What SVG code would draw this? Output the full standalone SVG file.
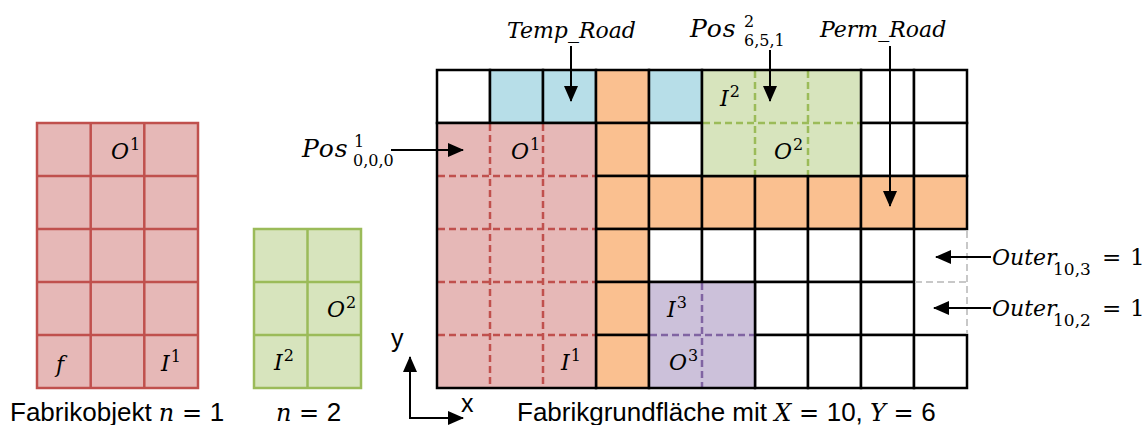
<svg xmlns="http://www.w3.org/2000/svg" width="1145" height="425" viewBox="0 0 1145 425">
<defs>
<marker id="ah" markerUnits="userSpaceOnUse" markerWidth="16" markerHeight="16" viewBox="0 0 16 16" refX="15" refY="8" orient="auto">
<path d="M0,1 L16,8 L0,15 Z" fill="#000"/>
</marker>
</defs>
<style>
.sans{font-family:"Liberation Sans",Arial,sans-serif;font-size:26px;fill:#000}
.ax{font-family:"Liberation Sans",Arial,sans-serif;font-size:25px;fill:#000}
.m{font-family:"DejaVu Serif","Liberation Serif",serif;font-style:italic;font-size:22px;fill:#000}
.mn{font-family:"DejaVu Serif","Liberation Serif",serif;font-style:normal;font-size:22px;fill:#000}
.m24{font-size:24px}
.s{font-size:16px;font-style:normal}
.s2{font-size:17px;font-style:normal;letter-spacing:0}
.c{stroke:#000;stroke-width:2.5}
.w{fill:#fff}
.b{fill:#B7DEE8}
.o{fill:#FAC090}
.red{fill:#E6B8B7}
.grn{fill:#D7E4BD}
.pur{fill:#CCC1DA}
.rl{stroke:#C0504D;stroke-width:2.5;fill:none}
.gl{stroke:#9BBB59;stroke-width:2.5;fill:none}
.rd{stroke:#C0504D;stroke-width:2.5;stroke-dasharray:7 4;fill:none}
.gd{stroke:#9BBB59;stroke-width:2.5;stroke-dasharray:7 4;fill:none}
.pd{stroke:#8064A2;stroke-width:2.5;stroke-dasharray:7 4;fill:none}
.od{stroke:#C8C8C8;stroke-width:2;stroke-dasharray:7 4;fill:none}
.ol{fill:none;stroke:#000;stroke-width:2.5}
.ar{stroke:#000;stroke-width:2;fill:none;marker-end:url(#ah)}
</style>

<g id="object1">
<rect x="37" y="123" width="161" height="265" class="red"/>
<path class="rl" d="M90.7,123V388M144.3,123V388M37,176H198M37,229H198M37,282H198M37,335H198"/>
<rect x="37" y="123" width="161" height="265" class="rl"/>
<text class="m" x="111" y="159">O<tspan class="s" dx="1" dy="-9">1</tspan></text>
<text class="m" x="56" y="372">f</text>
<text class="m" x="161" y="371">I<tspan class="s" dx="1" dy="-9">1</tspan></text>
<text class="sans" x="10" y="421">Fabrikobjekt <tspan class="m m24">n</tspan><tspan class="mn m24"> = </tspan><tspan>1</tspan></text>
</g>

<g id="object2">
<rect x="254" y="229" width="107" height="159" class="grn"/>
<path class="gl" d="M307.5,229V388M254,282H361M254,335H361"/>
<rect x="254" y="229" width="107" height="159" class="gl"/>
<text class="m" x="327" y="317">O<tspan class="s" dx="1" dy="-9">2</tspan></text>
<text class="m" x="274" y="370">I<tspan class="s" dx="1" dy="-9">2</tspan></text>
<text class="sans" x="276" y="421"><tspan class="m m24">n</tspan><tspan class="mn m24"> = </tspan><tspan>2</tspan></text>
</g>

<g id="grid">
<rect x="437" y="70" width="53" height="53" class="c w"/>
<rect x="490" y="70" width="53" height="53" class="c b"/>
<rect x="543" y="70" width="53" height="53" class="c b"/>
<rect x="596" y="70" width="53" height="53" class="c o"/>
<rect x="649" y="70" width="53" height="53" class="c b"/>
<rect x="861" y="70" width="53" height="53" class="c w"/>
<rect x="914" y="70" width="53" height="53" class="c w"/>
<rect x="596" y="123" width="53" height="53" class="c o"/>
<rect x="649" y="123" width="53" height="53" class="c w"/>
<rect x="861" y="123" width="53" height="53" class="c w"/>
<rect x="914" y="123" width="53" height="53" class="c w"/>
<rect x="596" y="176" width="53" height="53" class="c o"/>
<rect x="649" y="176" width="53" height="53" class="c o"/>
<rect x="702" y="176" width="53" height="53" class="c o"/>
<rect x="755" y="176" width="53" height="53" class="c o"/>
<rect x="808" y="176" width="53" height="53" class="c o"/>
<rect x="861" y="176" width="53" height="53" class="c o"/>
<rect x="914" y="176" width="53" height="53" class="c o"/>
<rect x="596" y="229" width="53" height="53" class="c o"/>
<rect x="649" y="229" width="53" height="53" class="c w"/>
<rect x="702" y="229" width="53" height="53" class="c w"/>
<rect x="755" y="229" width="53" height="53" class="c w"/>
<rect x="808" y="229" width="53" height="53" class="c w"/>
<rect x="861" y="229" width="53" height="53" class="c w"/>
<rect x="596" y="282" width="53" height="53" class="c o"/>
<rect x="755" y="282" width="53" height="53" class="c w"/>
<rect x="808" y="282" width="53" height="53" class="c w"/>
<rect x="861" y="282" width="53" height="53" class="c w"/>
<rect x="596" y="335" width="53" height="53" class="c o"/>
<rect x="755" y="335" width="53" height="53" class="c w"/>
<rect x="808" y="335" width="53" height="53" class="c w"/>
<rect x="861" y="335" width="53" height="53" class="c w"/>
<rect x="914" y="335" width="53" height="53" class="c w"/>
<path class="od" d="M967,231V334M915,282H967"/>
</g>

<g id="placed1">
<rect x="437" y="123" width="159" height="265" class="red"/>
<path class="rd" d="M490,124V387M543,124V387M438,176H595M438,229H595M438,282H595M438,335H595"/>
<rect x="437" y="123" width="159" height="265" class="ol"/>
<text class="m" x="511" y="159">O<tspan class="s" dx="1" dy="-9">1</tspan></text>
<text class="m" x="561" y="370">I<tspan class="s" dx="1" dy="-9">1</tspan></text>
</g>

<g id="placed2">
<rect x="702" y="70" width="159" height="106" class="grn"/>
<path class="gd" d="M755,71V175M808,71V175M703,123H860"/>
<rect x="702" y="70" width="159" height="106" class="ol"/>
<text class="m" x="720" y="106">I<tspan class="s" dx="1" dy="-9">2</tspan></text>
<text class="m" x="774" y="159">O<tspan class="s" dx="1" dy="-9">2</tspan></text>
</g>

<g id="placed3">
<rect x="649" y="282" width="106" height="106" class="pur"/>
<path class="pd" d="M702,283V387M650,335H754"/>
<rect x="649" y="282" width="106" height="106" class="ol"/>
<text class="m" x="667" y="317">I<tspan class="s" dx="1" dy="-9">3</tspan></text>
<text class="m" x="669" y="370">O<tspan class="s" dx="1" dy="-9">3</tspan></text>
</g>

<g id="connectors">
<line class="ar" x1="571" y1="46" x2="571" y2="101"/>
<line class="ar" x1="770" y1="50" x2="770" y2="101"/>
<line class="ar" x1="890" y1="46" x2="890" y2="206"/>
<line class="ar" x1="391" y1="150" x2="463" y2="150"/>
<line class="ar" x1="991" y1="257" x2="936" y2="257"/>
<line class="ar" x1="991" y1="308" x2="934" y2="308"/>
<line class="ar" x1="410" y1="419" x2="410" y2="357"/>
<line class="ar" x1="409" y1="418" x2="463" y2="418"/>
</g>

<g id="labels">
<text class="m" x="507" y="38">Temp_Road</text>
<text class="m" x="690" y="37" style="font-size:25px;letter-spacing:1px">Pos</text>
<text class="mn" x="744" y="27" style="font-size:16px">2</text>
<text class="mn" x="744" y="46" style="font-size:16px">6,5,1</text>
<text class="m" x="820" y="37">Perm_Road</text>
<text class="m" x="302" y="157" style="font-size:25px;letter-spacing:1px">Pos</text>
<text class="mn" x="354" y="147" style="font-size:16px">1</text>
<text class="mn" x="353" y="166" style="font-size:16px">0,0,0</text>
<text class="m" x="992" y="265">Outer<tspan class="s2" x="1053" y="275">10,3</tspan></text>
<text class="mn" x="1102" y="265" style="font-size:23px">=</text>
<text class="mn" x="1130" y="265" style="font-size:23px">1</text>
<text class="m" x="992" y="316">Outer<tspan class="s2" x="1053" y="326">10,2</tspan></text>
<text class="mn" x="1102" y="316" style="font-size:23px">=</text>
<text class="mn" x="1130" y="316" style="font-size:23px">1</text>
<text class="ax" x="391" y="347">y</text>
<text class="ax" x="461" y="412">x</text>
<text class="sans" x="517" y="421">Fabrikgrundfläche mit <tspan class="m m24">X</tspan><tspan class="mn m24"> = </tspan>10, <tspan class="m m24">Y</tspan><tspan class="mn m24"> = </tspan>6</text>
</g>
</svg>
